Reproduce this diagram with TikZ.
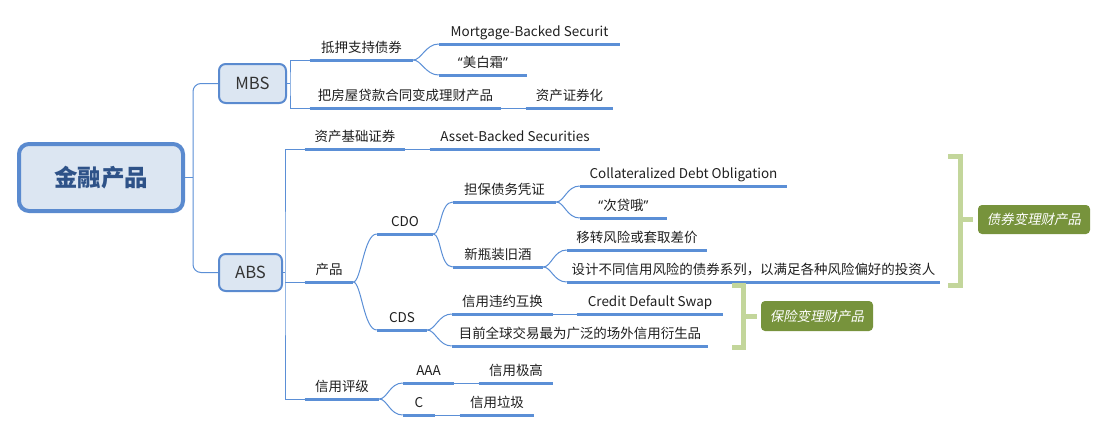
\documentclass[tikz,border=0pt]{standalone}
\usepackage{fontspec}
\setmainfont{Noto Sans CJK SC}
\newfontfamily\slantcjk{Noto Sans CJK SC}[FakeSlant=0.2]
\newfontfamily\quotefont{Noto Sans}
\usetikzlibrary{calc}
\definecolor{lineblue}{HTML}{5B8FD6}
\definecolor{boxfill}{HTML}{DCE6F2}
\definecolor{boxblue}{HTML}{5A8ACF}
\definecolor{roottext}{HTML}{2E5288}
\definecolor{bracegreen}{HTML}{C3D69B}
\definecolor{sumgreen}{HTML}{77933C}
\newcommand{\qt}[1]{{\quotefont “}#1{\quotefont ”}}

\begin{document}
\begin{tikzpicture}[x=0.75pt,y=-0.75pt,
    topic/.style={anchor=south,inner xsep=0pt,inner ysep=3pt,text height=8pt,text depth=2.25pt,
        font=\fontsize{10.1}{12}\selectfont,text=black!88},
    uline/.style={draw=lineblue,line width=2.25pt},
    link/.style={draw=lineblue,line width=0.75pt},
    box/.style={draw=boxblue,fill=boxfill,rounded corners=5pt,line width=1.5pt,inner sep=0pt,
        font=\fontsize{12.5}{14}\selectfont,text=black!80},
    brace/.style={draw=bracegreen,line width=3.75pt,line join=miter},
    summary/.style={fill=sumgreen,rounded corners=3pt,text=white,inner sep=0pt,
        font=\slantcjk\fontsize{10.1}{12}\selectfont,minimum width=84pt}]
    \useasboundingbox (0,0) rectangle (1106,432);

    % root and main branches
    \node[box,line width=3pt,rounded corners=7.5pt,minimum width=123pt,minimum height=50.25pt,
        font=\fontsize{17.6}{20}\selectfont\bfseries,text=roottext] (root) at (101,177.5) {金融产品};
    \node[box,minimum width=50.25pt,minimum height=29.25pt] (mbs) at (252.5,83.5) {MBS};
    \node[box,minimum width=47.25pt,minimum height=27.75pt] (abs) at (250.5,272.5) {ABS};

    % MBS topics
    \node[topic,minimum width=77.25pt] (t1) at (361.5,60) {抵押支持债券};
    \node[topic,minimum width=135.75pt] (t1a) at (529.5,44) {Mortgage-Backed Securit};
    \node[topic,minimum width=66pt] (t1b) at (483,75) {\qt{美白霜}};
    \node[topic,minimum width=143.25pt] (t2) at (405.5,108) {把房屋贷款合同变成理财产品};
    \node[topic,minimum width=65.25pt] (t2a) at (569.5,108) {资产证券化};

    % ABS topics
    \node[topic,minimum width=75pt] (a1) at (355,149) {资产基础证券};
    \node[topic,minimum width=127.5pt] (a1a) at (515,149) {Asset-Backed Securities};
    \node[topic,minimum width=36pt] (a2) at (329,282) {产品};
    \node[topic,minimum width=42pt] (cdo) at (405,234) {CDO};
    \node[topic,minimum width=77.25pt] (cdo1) at (504.5,202) {担保债务凭证};
    \node[topic,minimum width=155.25pt] (cdo1a) at (683.5,186) {Collateralized Debt Obligation};
    \node[topic,minimum width=65.25pt] (cdo1b) at (623.5,218) {\qt{次贷哦}};
    \node[topic,minimum width=67.5pt] (cdo2) at (498,267) {新瓶装旧酒};
    \node[topic,minimum width=105pt] (cdo2a) at (637,250) {移转风险或套取差价};
    \node[topic,minimum width=279.75pt] (cdo2b) at (753.5,282) {设计不同信用风险的债券系列，以满足各种风险偏好的投资人};
    \node[topic,minimum width=37.5pt] (cds) at (402,330) {CDS};
    \node[topic,minimum width=75.75pt] (cds1) at (502.5,314) {信用违约互换};
    \node[topic,minimum width=109.5pt] (cds1a) at (650,314) {Credit Default Swap};
    \node[topic,minimum width=192pt] (cds2) at (580,346) {目前全球交易最为广泛的场外信用衍生品};
    \node[topic,minimum width=55.5pt] (a3) at (342,399) {信用评级};
    \node[topic,minimum width=38.25pt] (aaa) at (428.5,383) {AAA};
    \node[topic,minimum width=55.5pt] (aaa1) at (516,383) {信用极高};
    \node[topic,minimum width=24pt] (cc) at (419,415) {C};
    \node[topic,minimum width=55.5pt] (cc1) at (497,415) {信用垃圾};

    % trunks
    \draw[link] (root.east) -- ++(8,0) coordinate (rtrunk);
    \draw[link,rounded corners=6pt] (mbs.west) -| (rtrunk) |- (abs.west);
    \draw[link] (mbs.east) -- ++(3,0) coordinate (mtrunk);
    \draw[link] (t1.south west) -| (mtrunk) |- (t2.south west);
    \draw[link] (abs.east) -- ++(2,0) coordinate (atrunk);
    \draw[link] (a1.south west) -| (atrunk) |- (a3.south west);
    \draw[link] (atrunk |- a2.south west) -- (a2.south west);

    % straight links
    \draw[link] (t2.south east) -- (t2a.south west);
    \draw[link] (a1.south east) -- (a1a.south west);
    \draw[link] (cds1.south east) -- (cds1a.south west);
    \draw[link] (aaa.south east) -- (aaa1.south west);
    \draw[link] (cc.south east) -- (cc1.south west);

    % forks
    \draw[link] (t1.south east) .. controls +(8,0) and +(-13,0) .. (t1a.south west);
    \draw[link] (t1.south east) .. controls +(8,0) and +(-13,0) .. (t1b.south west);
    \draw[link] (a2.south east) .. controls +(8,0) and +(-13,0) .. (cdo.south west);
    \draw[link] (a2.south east) .. controls +(8,0) and +(-13,0) .. (cds.south west);
    \draw[link] (cdo.south east) .. controls +(8,0) and +(-13,0) .. (cdo1.south west);
    \draw[link] (cdo.south east) .. controls +(8,0) and +(-13,0) .. (cdo2.south west);
    \draw[link] (cdo1.south east) .. controls +(8,0) and +(-13,0) .. (cdo1a.south west);
    \draw[link] (cdo1.south east) .. controls +(8,0) and +(-13,0) .. (cdo1b.south west);
    \draw[link] (cdo2.south east) .. controls +(8,0) and +(-13,0) .. (cdo2a.south west);
    \draw[link] (cdo2.south east) .. controls +(8,0) and +(-13,0) .. (cdo2b.south west);
    \draw[link] (cds.south east) .. controls +(8,0) and +(-13,0) .. (cds1.south west);
    \draw[link] (cds.south east) .. controls +(8,0) and +(-13,0) .. (cds2.south west);
    \draw[link] (a3.south east) .. controls +(8,0) and +(-13,0) .. (aaa.south west);
    \draw[link] (a3.south east) .. controls +(8,0) and +(-13,0) .. (cc.south west);

    % underlines
    \foreach \n in {t1,t1a,t1b,t2,t2a,a1,a1a,a2,cdo,cdo1,cdo1a,cdo1b,cdo2,cdo2a,cdo2b,
        cds,cds1,cds1a,cds2,a3,aaa,aaa1,cc,cc1}
        \draw[uline] (\n.south west) -- (\n.south east);

    % summaries
    \node[summary,minimum height=21.75pt] (sum1) at (1034,219.5) {债券变理财产品};
    \node[summary,minimum height=22.5pt] (sum2) at (817,316) {保险变理财产品};
    \draw[brace] (948,156) -| (960,285) -- (948,285);
    \draw[brace,shorten >=3.75pt] (sum1.west) ++(-18,0) -- (sum1.west);
    \draw[brace] (732,285) -| (743,347) -- (732,347);
    \draw[brace,shorten >=3pt] (sum2.west) ++(-18,0) -- (sum2.west);
\end{tikzpicture}
\end{document}
